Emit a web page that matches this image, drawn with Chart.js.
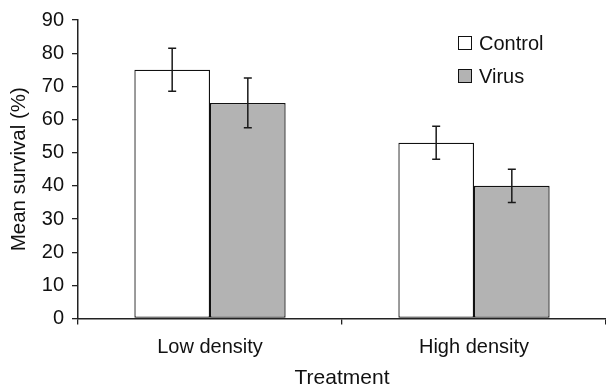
<!DOCTYPE html>
<html>
<head>
<meta charset="utf-8">
<script src="https://cdn.jsdelivr.net/npm/chart.js@4"></script>
<style>
  html, body { margin: 0; padding: 0; background: #fff; }
  #wrap { width: 606px; height: 388px; }
</style>
</head>
<body>
<div id="wrap"><canvas id="myChart"></canvas></div>
<script>
const categories = ['Low density', 'High density'];
const controlMean = [75, 53];
const controlErr = [6.5, 5];
const virusMean = [65, 40];
const virusErr = [7.5, 5];
const yTicks = [0, 10, 20, 30, 40, 50, 60, 70, 80, 90];

const FONT = "'Liberation Sans', Arial, sans-serif";
Chart.defaults.font.family = FONT;
Chart.defaults.color = '#111';

// error bars on top of each bar
const errorBars = {
  id: 'errorBars',
  afterDatasetsDraw(chart) {
    const ctx = chart.ctx;
    const y = chart.scales.y;
    chart.data.datasets.forEach((ds, i) => {
      const meta = chart.getDatasetMeta(i);
      meta.data.forEach((bar, j) => {
        const v = ds.data[j], e = ds.errors[j];
        const top = y.getPixelForValue(v + e);
        const bot = y.getPixelForValue(v - e);
        ctx.save();
        ctx.strokeStyle = '#1a1a1a';
        ctx.lineWidth = 1.5;
        ctx.beginPath();
        ctx.moveTo(bar.x, top); ctx.lineTo(bar.x, bot);
        ctx.moveTo(bar.x - 4, top); ctx.lineTo(bar.x + 4, top);
        ctx.moveTo(bar.x - 4, bot); ctx.lineTo(bar.x + 4, bot);
        ctx.stroke();
        ctx.restore();
      });
    });
  }
};

// small legend in the upper right corner
const boxLegend = {
  id: 'boxLegend',
  afterDraw(chart) {
    const ctx = chart.ctx;
    const x0 = 458, rows = [43, 76];
    chart.data.datasets.forEach((ds, i) => {
      const cy = rows[i];
      ctx.save();
      ctx.fillStyle = ds.backgroundColor;
      ctx.fillRect(x0, cy - 7, 14, 14);
      ctx.strokeStyle = '#111';
      ctx.lineWidth = 1;
      ctx.strokeRect(x0 + 0.5, cy - 6.5, 13, 13);
      ctx.fillStyle = '#111';
      ctx.font = '20px ' + FONT;
      ctx.textBaseline = 'middle';
      ctx.fillText(ds.label, x0 + 21, cy + 1);
      ctx.restore();
    });
  }
};

new Chart(document.getElementById('myChart'), {
  type: 'bar',
  data: {
    labels: categories,
    datasets: [
      {
        label: 'Control',
        data: controlMean,
        errors: controlErr,
        backgroundColor: '#ffffff',
        borderColor: '#111',
        borderWidth: 1.3,
        borderSkipped: false
      },
      {
        label: 'Virus',
        data: virusMean,
        errors: virusErr,
        backgroundColor: '#b3b3b3',
        borderColor: '#111',
        borderWidth: 1.3,
        borderSkipped: false
      }
    ]
  },
  options: {
    responsive: true,
    maintainAspectRatio: false,
    animation: false,
    categoryPercentage: 0.573,
    barPercentage: 1,
    layout: { padding: { top: 16, right: 0, bottom: 0, left: 0 } },
    plugins: {
      legend: { display: false },
      tooltip: { enabled: false }
    },
    scales: {
      x: {
        afterFit: s => { s.height = 69.5; },
        grid: { drawOnChartArea: false, tickLength: 6, color: '#222', lineWidth: 1.3, offset: true },
        border: { color: '#222', width: 1.5 },
        ticks: { font: { size: 20 }, color: '#111', padding: 11, maxRotation: 0 },
        title: { display: true, text: 'Treatment', font: { size: 21 }, color: '#111', padding: { top: 0, bottom: -3 } }
      },
      y: {
        min: 0,
        max: 90,
        afterFit: s => { s.width = 78; },
        afterBuildTicks: s => { s.ticks = yTicks.map(v => ({ value: v })); },
        grid: { drawOnChartArea: false, tickLength: 6, color: '#222', lineWidth: 1.3 },
        border: { color: '#222', width: 1.5 },
        ticks: { font: { size: 20 }, color: '#111', padding: 8 },
        title: { display: true, text: 'Mean survival (%)', font: { size: 20.5 }, color: '#111', padding: { top: 7, bottom: 0 } }
      }
    }
  },
  plugins: [errorBars, boxLegend]
});
</script>
</body>
</html>
